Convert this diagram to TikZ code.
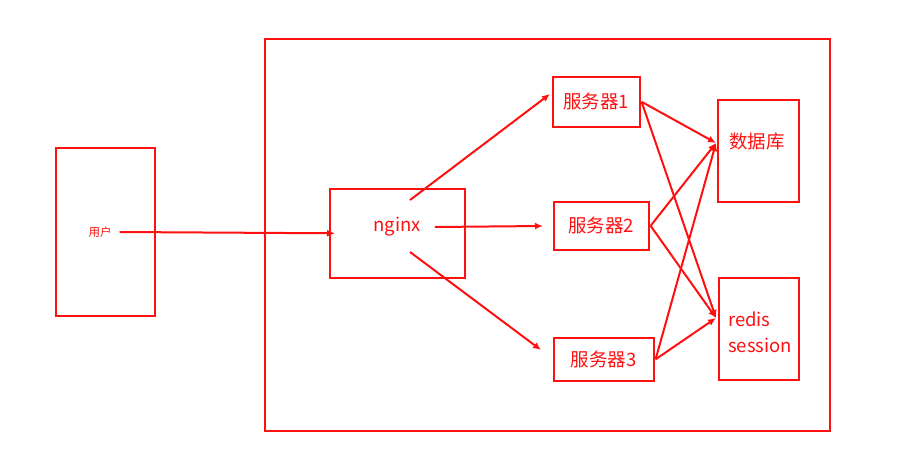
\documentclass[tikz,border=0pt]{standalone}
\usepackage{fontspec}
\newfontfamily\cjkfont{Noto Sans CJK SC}
\usetikzlibrary{arrows.meta}
\definecolor{lbred}{HTML}{FF1010}

\begin{document}
\begin{tikzpicture}[x=1pt, y=-1pt, font=\cjkfont\fontsize{18.5}{26}\selectfont, text=lbred,
    box/.style={draw=lbred, line width=1.6pt, anchor=north west, inner sep=0pt},
    link/.style={draw=lbred, line width=2pt, -{Latex[length=8pt, width=7pt]}},
    lbl/.style={inner sep=0pt},
  ]
  \useasboundingbox (0, 0) rectangle (900, 473);

  % user and the server room
  \node[box, minimum width=99, minimum height=168] (user) at (55, 147) {};
  \node[lbl, font=\cjkfont\fontsize{11.5}{13}\selectfont] (userlbl) at (100, 232) {用户};
  \node[box, minimum width=565, minimum height=392] (room) at (264, 38) {};

  % proxy, servers and storage
  \node[box, minimum width=135, minimum height=89] (nginx) at (329, 188) {};
  \node[lbl] (nginxlbl) at (397, 227) {nginx};
  \node[box, minimum width=87, minimum height=50] (s1) at (552, 76) {服务器1};
  \node[box, minimum width=95, minimum height=48] (s2) at (553, 201) {服务器2};
  \node[box, minimum width=100, minimum height=43] (s3) at (553, 337) {服务器3};
  \node[box, minimum width=81, minimum height=102] (db) at (717, 99) {};
  \node[lbl] (dblbl) at (757, 142) {数据库};
  \node[box, minimum width=80, minimum height=102] (redis) at (718, 277) {};
  \node[lbl, align=left] (redislbl) at (760, 332) {redis\\session};

  % free ends of the arrows
  \coordinate (ngup) at (410, 200);
  \coordinate (ngdown) at (410, 252);
  \coordinate (s1in) at (550, 94);
  \coordinate (s2in) at (543, 226);
  \coordinate (s3in) at (541, 350);
  \coordinate (dbin) at (716, 143);
  \coordinate (redisin) at (716, 318);

  % requests
  \draw[link] ([xshift=8]userlbl.east) -- ([xshift=6]nginx.west);
  \draw[link] (ngup) -- (s1in);
  \draw[link] ([xshift=14]nginxlbl.east) -- (s2in);
  \draw[link] (ngdown) -- (s3in);

  % every server talks to both stores
  \foreach \s in {s1, s2, s3} {
    \draw[link] ([xshift=1]\s.east) -- (dbin);
    \draw[link] ([xshift=1]\s.east) -- (redisin);
  }
\end{tikzpicture}
\end{document}
